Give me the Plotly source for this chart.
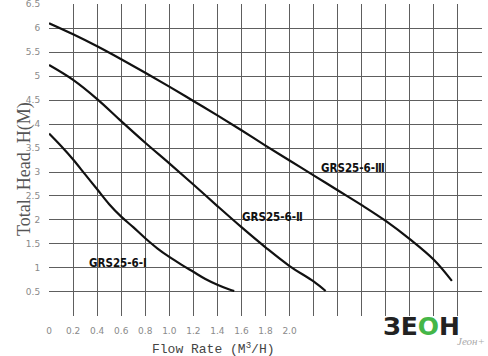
import plotly.graph_objects as go

# Data
flow_1 = [0, 0.1, 0.2, 0.3, 0.4, 0.5, 0.6, 0.7, 0.8, 0.9, 1.0, 1.1, 1.2, 1.3, 1.4, 1.5, 1.54]
head_1 = [3.8, 3.54, 3.26, 2.95, 2.64, 2.33, 2.07, 1.85, 1.62, 1.41, 1.23, 1.07, 0.92, 0.77, 0.65, 0.55, 0.52]

flow_2 = [0, 0.2, 0.4, 0.6, 0.8, 1.0, 1.2, 1.4, 1.6, 1.8, 2.0, 2.2, 2.3]
head_2 = [5.23, 4.92, 4.52, 4.06, 3.61, 3.18, 2.74, 2.29, 1.85, 1.43, 1.04, 0.72, 0.52]

flow_3 = [0, 0.2, 0.4, 0.6, 0.8, 1.0, 1.2, 1.4, 1.6, 1.8, 2.0, 2.2, 2.4, 2.6, 2.8, 3.0, 3.2, 3.35]
head_3 = [6.1, 5.87, 5.62, 5.35, 5.07, 4.78, 4.48, 4.18, 3.87, 3.55, 3.24, 2.93, 2.62, 2.31, 1.98, 1.6, 1.17, 0.73]

series_names = ["GRS25-6-Ⅰ", "GRS25-6-Ⅱ", "GRS25-6-Ⅲ"]
label_x = [0.57, 1.86, 2.53]
label_y = [1.1, 2.06, 3.08]

x_tickvals = [0, 0.2, 0.4, 0.6, 0.8, 1.0, 1.2, 1.4, 1.6, 1.8, 2.0, 2.2, 2.4, 2.6, 2.8, 3.0, 3.2, 3.4, 3.6]
x_ticktext = ["0", "0.2", "0.4", "0.6", "0.8", "1.0", "1.2", "1.4", "1.6", "1.8", "2.0",
              " ", " ", " ", " ", " ", " ", " ", " "]
y_tickvals = [0, 0.5, 1, 1.5, 2, 2.5, 3, 3.5, 4, 4.5, 5, 5.5, 6, 6.5]
y_ticktext = [" ", "0.5", "1", "1.5", "2", "2.5", "3", "3.5", "4", "4.5", "5", "5.5", "6", "6.5"]

fig = go.Figure()
for fx, hy, name in [(flow_1, head_1, series_names[0]),
                     (flow_2, head_2, series_names[1]),
                     (flow_3, head_3, series_names[2])]:
    fig.add_trace(go.Scatter(x=fx, y=hy, mode="lines", name=name,
                             line=dict(color="#111111", width=2.2, shape="spline", smoothing=1.0),
                             showlegend=False, hoverinfo="skip"))

for name, lx, ly in zip(series_names, label_x, label_y):
    fig.add_annotation(x=lx, y=ly, text="<b>" + name + "</b>", showarrow=False,
                       font=dict(family="DejaVu Sans Condensed", size=11.5, color="#111111"))

grid_col = "#5e5e5e"
tick_font = dict(family="DejaVu Sans", size=9, color="#8a8a8a")

fig.update_xaxes(range=[-0.0005, 3.6005], tickmode="array", tickvals=x_tickvals, ticktext=x_ticktext,
                 showgrid=True, gridcolor=grid_col, gridwidth=1.3,
                 showline=False, zeroline=False, ticklabeloverflow="allow",
                 ticks="outside", ticklen=6, tickcolor="rgba(0,0,0,0)", tickfont=tick_font)
fig.update_yaxes(range=[-0.001, 6.501], tickmode="array", tickvals=y_tickvals, ticktext=y_ticktext,
                 showgrid=True, gridcolor=grid_col, gridwidth=1.3,
                 showline=False, zeroline=False, ticklabeloverflow="allow",
                 ticks="outside", ticklen=6, tickcolor="rgba(0,0,0,0)", tickfont=tick_font)

# Axis titles
fig.add_annotation(xref="paper", yref="paper", x=-0.085, y=0.47, text="Total\u2002Head\u2002H(M)",
                   textangle=-90, showarrow=False,
                   font=dict(family="Liberation Serif", size=18, color="#555555"))
fig.add_annotation(xref="paper", yref="paper", x=0.233, y=-0.103, xanchor="left", yanchor="middle",
                   text="Flow Rate (M<sup>3</sup>/H)", showarrow=False,
                   font=dict(family="Liberation Mono", size=13, color="#444444"))

# Watermark logo
fig.add_annotation(xref="paper", yref="paper", x=0.861, y=0.02, xanchor="center", yanchor="top",
                   text="<b>ЗЕ<span style='color:#44b648'>O</span>Н</b>", showarrow=False,
                   font=dict(family="DejaVu Sans", size=25, color="#222222"))
fig.add_annotation(xref="paper", yref="paper", x=1.012, y=-0.055, xanchor="right", yanchor="top",
                   text="<i>Јеон+</i>", showarrow=False,
                   font=dict(family="Liberation Serif", size=11, color="#aaaaaa"))

fig.update_layout(template="none", width=488, height=356,
                  margin=dict(l=49, r=6, t=4, b=40),
                  plot_bgcolor="white", paper_bgcolor="white")

fig.write_html("out.html")
